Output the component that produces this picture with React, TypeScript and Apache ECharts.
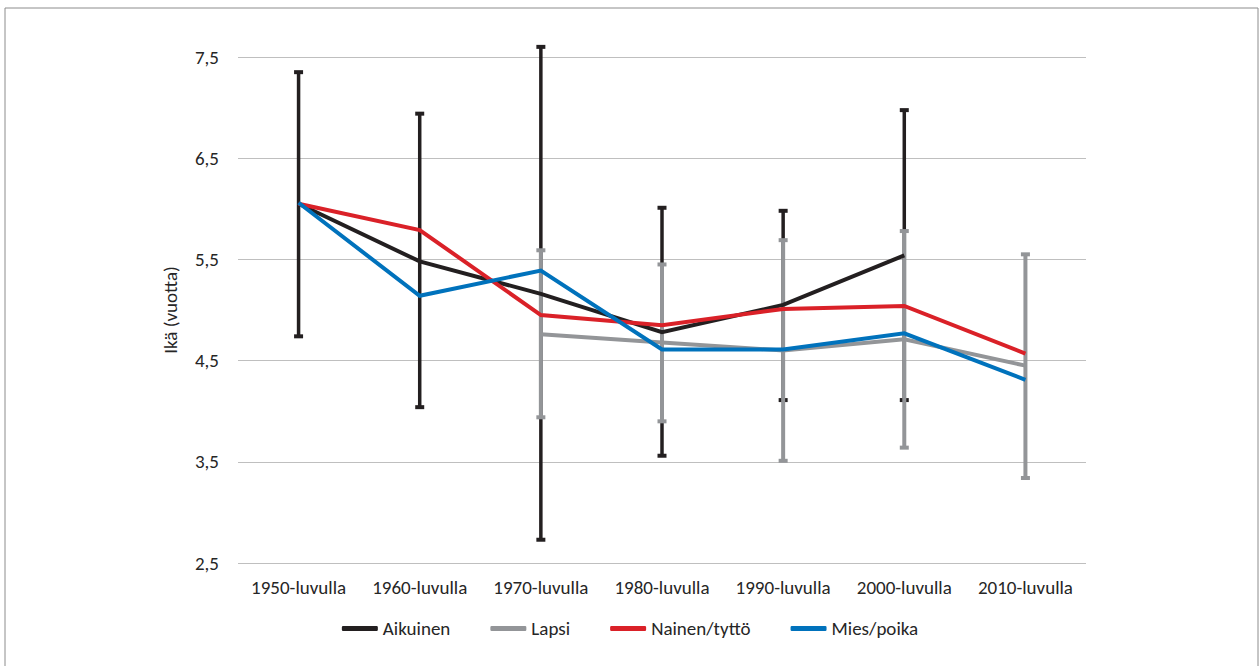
import React, { useEffect, useRef } from "react";
import * as echarts from "echarts";

const categories = ["1950-luvulla", "1960-luvulla", "1970-luvulla", "1980-luvulla", "1990-luvulla", "2000-luvulla", "2010-luvulla"];
const aikuinen = [6.05, 5.48, 5.16, 4.78, 5.05, 5.54, null];
const lapsi = [null, null, 4.76, 4.68, 4.6, 4.71, 4.45];
const nainen = [6.05, 5.79, 4.95, 4.85, 5.01, 5.04, 4.57];
const mies = [6.06, 5.14, 5.39, 4.61, 4.61, 4.77, 4.31];
const aikuinenLow = [4.73, 4.03, 2.72, 3.55, 4.1, 4.1, null];
const aikuinenHigh = [7.36, 6.95, 7.61, 6.02, 5.99, 6.985, null];
const lapsiLow = [null, null, 3.93, 3.89, 3.5, 3.63, 3.33];
const lapsiHigh = [null, null, 5.6, 5.46, 5.7, 5.79, 5.56];
const yTicks = [2.5, 3.5, 4.5, 5.5, 6.5, 7.5];

const BLACK = "#231f20";
const GRAY = "#939598";
const RED = "#da2128";
const BLUE = "#0072bc";
const FONT = "Carlito, 'Open Sans', 'Noto Sans', sans-serif";
const FS = 19;
const TXT = "#262626";

function errData(low: (number | null)[], high: (number | null)[]) {
  const out: number[][] = [];
  low.forEach((l, i) => {
    const h = high[i];
    if (l != null && h != null) out.push([i, l, h]);
  });
  return out;
}

function errRender(color: string, width: number) {
  return (params: any, api: any) => {
    const i = api.value(0);
    const lo = api.coord([i, api.value(1)]);
    const hi = api.coord([i, api.value(2)]);
    const cw = 9;
    const ch = 4;
    return {
      type: "group",
      children: [
        { type: "line", shape: { x1: lo[0], y1: lo[1], x2: hi[0], y2: hi[1] }, style: { stroke: color, lineWidth: width } },
        { type: "rect", shape: { x: hi[0] - cw / 2, y: hi[1] - 1, width: cw, height: ch }, style: { fill: color } },
        { type: "rect", shape: { x: lo[0] - cw / 2, y: lo[1] - ch + 1, width: cw, height: ch }, style: { fill: color } },
      ],
    };
  };
}

export default function App() {
  const ref = useRef<HTMLDivElement>(null);
  useEffect(() => {
    document.body.style.margin = "0";
    const chart = echarts.init(ref.current!, null, { renderer: "svg" });
    const lineSeries = (name: string, data: (number | null)[], color: string) => ({
      name,
      type: "line",
      data,
      symbol: "none",
      connectNulls: false,
      lineStyle: { color, width: 4, join: "miter" },
      itemStyle: { color },
      z: 5,
    });
    chart.setOption({
      animation: false,
      backgroundColor: "#ffffff",
      textStyle: { fontFamily: FONT },
      graphic: [
        {
          type: "rect",
          shape: { x: 5, y: 8, width: 1253, height: 700 },
          style: { fill: "none", stroke: "#8c8c8c", lineWidth: 1 },
          silent: true,
        },
      ],
      grid: { left: 238, right: 174, top: 57, bottom: 103 },
      legend: {
        bottom: 23,
        left: "center",
        icon: "roundRect",
        itemWidth: 36,
        itemHeight: 5,
        itemGap: 40,
        textStyle: { fontSize: FS, color: TXT, fontFamily: FONT },
        data: ["Aikuinen", "Lapsi", "Nainen/tyttö", "Mies/poika"],
      },
      xAxis: {
        type: "category",
        data: categories,
        boundaryGap: true,
        axisLine: { show: false },
        axisTick: { show: false },
        axisLabel: { fontSize: FS, color: TXT, margin: 15, interval: 0, fontFamily: FONT },
      },
      yAxis: {
        type: "value",
        min: 2.5,
        max: 7.5,
        interval: 1,
        name: "Ikä (vuotta)",
        nameLocation: "middle",
        nameGap: 58,
        nameRotate: 90,
        nameTextStyle: { fontSize: FS, color: TXT, fontFamily: FONT },
        axisLine: { show: false },
        axisTick: { show: false },
        splitLine: { lineStyle: { color: "#bfbfbf", width: 1 } },
        axisLabel: {
          fontSize: FS,
          color: TXT,
          margin: 19,
          fontFamily: FONT,
          customValues: yTicks,
          formatter: (v: number) => v.toFixed(1).replace(".", ","),
        },
      },
      series: [
        {
          type: "custom",
          name: "errA",
          data: errData(aikuinenLow, aikuinenHigh),
          renderItem: errRender(BLACK, 3.5),
          clip: false,
          z: 2,
          encode: { x: 0, y: [1, 2] },
        },
        {
          type: "custom",
          name: "errL",
          data: errData(lapsiLow, lapsiHigh),
          renderItem: errRender(GRAY, 4),
          clip: false,
          z: 3,
          encode: { x: 0, y: [1, 2] },
        },
        lineSeries("Aikuinen", aikuinen, BLACK),
        lineSeries("Lapsi", lapsi, GRAY),
        lineSeries("Nainen/tyttö", nainen, RED),
        lineSeries("Mies/poika", mies, BLUE),
      ],
    });
    return () => chart.dispose();
  }, []);
  return <div ref={ref} style={{ width: 1260, height: 666 }} />;
}
